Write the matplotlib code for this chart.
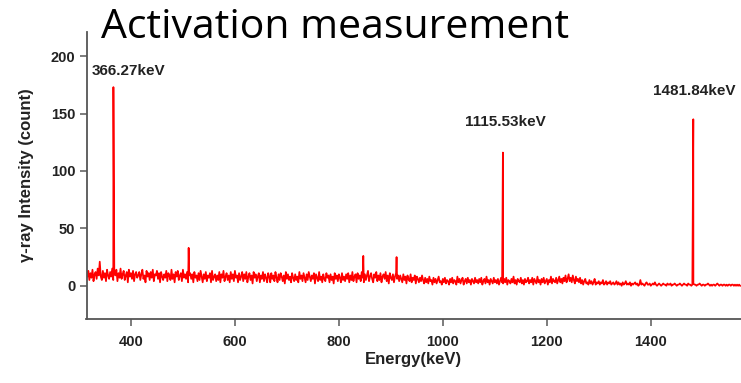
import numpy as np
import matplotlib
matplotlib.use("Agg")
import matplotlib.pyplot as plt

# Baseline spectrum on a 2 keV grid from 316 to 1572 keV
e_start, e_step = 316, 2
baseline = (
    [8,13,5,11,7,14,4,10,12,6,15,9,21,8,5,13,7,11,4,14,9,6,12,8,15] +
    [5,12,9,14,4,11,7,15,6,10,13,5,9,12,3,14,8,11,6,13,4,10,12,7,9] +
    [12,5,10,14,6,9,3,13,8,11,5,12,7,14,4,10,9,13,6,11,3,12,8,5,10] +
    [7,13,4,11,9,5,14,6,10,3,12,8,13,5,9,11,4,14,7,10,6,12,3,9,11] +
    [6,10,3,12,7,9,4,11,5,13,8,3,10,6,12,4,9,7,11,3,13,5,8,10,4] +
    [9,5,12,3,10,7,13,4,8,11,5,9,3,12,6,10,4,13,7,9,3,11,5,8,12] +
    [4,10,6,12,3,8,11,5,9,2,12,7,10,4,8,11,3,9,6,12,4,10,7,3,11] +
    [8,3,11,6,9,4,12,7,3,10,5,11,8,4,9,2,12,6,10,5,8,3,11,7,4] +
    [10,5,8,3,12,6,9,4,11,7,3,10,5,12,8,4,9,6,11,2,10,7,4,12,5] +
    [8,3,10,6,4,11,7,9,3,10,5,8,2,11,6,9,4,10,7,3,11,5,8,4,10] +
    [6,11,3,9,5,12,4,8,10,3,11,6,9,4,12,7,3,10,5,9,13,4,8,11,6] +
    [3,10,7,12,4,9,5,11,3,8,10,6,12,4,9,2,11,7,5,10,3,8,11,6,9] +
    [4,9,6,3,10,5,8,2,9,6,4,10,3,7,5,9,2,8,6,3,7,4,9,5,2] +
    [7,3,6,2,8,4,5,1,7,3,6,2,5,8,3,4,1,6,3,7,2,5,4,1,6] +
    [3,7,2,5,4,1,8,3,6,2,5,7,1,4,6,2,7,3,5,1,6,4,2,7,3] +
    [5,2,6,3,7,1,4,6,2,8,3,5,1,6,4,2,7,3,5,2,6,1,4,7,3] +
    [2,6,3,7,1,5,4,2,6,3,8,2,5,1,6,4,3,7,2,5,1,6,3,4,7] +
    [2,5,3,7,1,6,4,2,8,3,5,1,6,3,7,2,4,6,1,5,3,8,2,6,4] +
    [3,7,2,5,8,3,6,2,7,4,9,3,6,10,4,7,3,9,5,2,8,4,6,3,7] +
    [2,5,1,4,6,2,3,1,5,2,4,1,3,6,1,3,2,4,1,3,2,5,1,2,4] +
    [1,3,2,4,1,2,3,1,2,4,1,3,1,2,0,3,1,2,4,1,2,1,3,0,2] +
    [1,2,3,1,2,0,1,5,1,2,1,0,2,3,1,1,2,0,1,2,1,3,1,0,1] +
    [2,1,0,1,2,1,1,0,2,1,1,2,0,1,1,2,1,0,1,1,2,1,0,1,2] +
    [1,1,0,2,1,1,0,1,2,1,1,0,1,1,2,1,0,1,1,0,1,1,2,1,0] +
    [1,0,1,1,0,1,2,1,0,1,1,0,1,1,0,1,0,1,1,0,1,1,0,1,0] +
    [1,0,1,0]
)
peak_energy = [366.27, 511.0, 847.0, 911.0, 1115.53, 1481.84]
peak_count = [173, 33, 26, 25, 116, 145]
label_text = ["366.27keV", "1115.53keV", "1481.84keV"]
label_x = [325, 1042, 1404]
label_y = [187, 143, 170]

base_e = e_start + e_step * np.arange(len(baseline))
energy = np.concatenate([base_e, peak_energy])
counts = np.concatenate([baseline, peak_count])
order = np.argsort(energy)
energy, counts = energy[order], counts[order]

fig = plt.figure(figsize=(7.41, 3.83), dpi=100)
ax = fig.add_axes([86.5/741, 1-318.5/383, 1-86.5/741, (318.5-32)/383])
ax.plot(energy, counts, color="#ff0000", lw=1.25)
ax.set_xlim(314.5, 1573.6)
ax.set_ylim(-28.5, 221)
ax.set_xticks([400, 600, 800, 1000, 1200, 1400])
ax.set_yticks([0, 50, 100, 150, 200])
for s in ["top", "right"]:
    ax.spines[s].set_visible(False)
for s in ["left", "bottom"]:
    ax.spines[s].set_color("#555555")
    ax.spines[s].set_linewidth(1.3)
ax.tick_params(axis="both", direction="out", length=5, width=1.2, color="#666666",
               labelsize=10.5, labelcolor="#222222", pad=3)
ax.tick_params(axis="x", pad=7)
for lab in ax.get_xticklabels() + ax.get_yticklabels():
    lab.set_fontweight("bold")
    lab.set_family("Liberation Sans")
ax.set_xlabel("Energy(keV)", fontsize=12, fontweight="bold", family="Liberation Sans",
              color="#222222", labelpad=2)
ax.set_ylabel("γ-ray Intensity (count)", fontsize=12, fontweight="bold",
              family="Liberation Sans", color="#222222", labelpad=12)
for x, y, t in zip(label_x, label_y, label_text):
    ax.text(x, y, t, fontsize=11, fontweight="bold", family="Liberation Sans",
            color="#222222", ha="left", va="center")
fig.text(101/741, 1-38/383, "Activation measurement", fontsize=29.5, family="Open Sans",
         color="black", ha="left", va="baseline")
fig.savefig("out.png", dpi=100)
